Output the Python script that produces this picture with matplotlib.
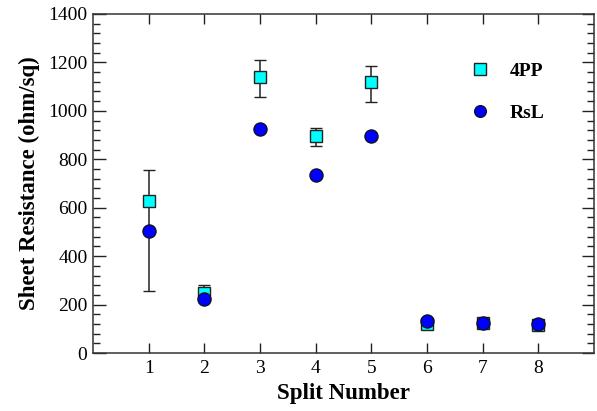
import matplotlib
matplotlib.use("Agg")
import matplotlib.pyplot as plt
from matplotlib.ticker import MultipleLocator
from matplotlib.lines import Line2D

split = [1, 2, 3, 4, 5, 6, 7, 8]
pp4 = [627, 247, 1138, 895, 1120, 120, 123, 116]
pp4_err_low = [370, 25, 80, 40, 85, 5, 5, 5]
pp4_err_high = [130, 35, 72, 33, 65, 5, 5, 5]
rsl = [502, 221, 926, 736, 897, 132, 124, 120]

plt.rcParams['font.family'] = ['Liberation Serif', 'DejaVu Serif']

fig = plt.figure(figsize=(5.97, 4.11), dpi=100)
ax = fig.add_axes([0.1558, 0.1411, 0.8392, 0.8249])

ax.errorbar(split, pp4, yerr=[pp4_err_low, pp4_err_high], fmt='s', ms=8.5,
            mfc='#00FFFF', mec='#222222', mew=1.0, ecolor='#222222',
            elinewidth=1.1, capsize=4, capthick=1.1, zorder=2)
ax.plot(split, rsl, 'o', ms=9.5, mfc='#0000FF', mec='#111111', mew=0.9,
        zorder=3, linestyle='none')

ax.set_xlim(0, 9)
ax.set_ylim(0, 1400)
ax.set_xticks(split)
ax.yaxis.set_major_locator(MultipleLocator(200))
ax.yaxis.set_minor_locator(MultipleLocator(40))

ax.tick_params(axis='both', which='both', direction='in', top=True, right=True,
               labelsize=14, colors='#222222', labelcolor='black')
ax.tick_params(axis='y', which='major', length=9, width=1.0, pad=4)
ax.tick_params(axis='y', which='minor', length=5, width=1.0)
ax.tick_params(axis='x', which='major', length=7, width=1.0, pad=5)
for s in ax.spines.values():
    s.set_linewidth(1.1)
    s.set_color('#333333')

ax.set_xlabel('Split Number', fontsize=16.5, fontweight='bold', labelpad=4)
ax.set_ylabel('Sheet Resistance (ohm/sq)', fontsize=16.5, fontweight='bold', labelpad=6)

handles = [
    Line2D([], [], marker='s', ms=8.5, mfc='#00FFFF', mec='#222222', mew=1.0, linestyle='none'),
    Line2D([], [], marker='o', ms=8.5, mfc='#0000FF', mec='#111111', mew=0.9, linestyle='none'),
]
leg = ax.legend(handles, ['4PP', 'RsL'], loc='upper left', bbox_to_anchor=(0.738, 0.88),
                frameon=False, prop={'weight': 'bold', 'size': 14}, handletextpad=1.0,
                labelspacing=1.25, handlelength=1.0, borderaxespad=0)

fig.savefig('out.png', dpi=100)
